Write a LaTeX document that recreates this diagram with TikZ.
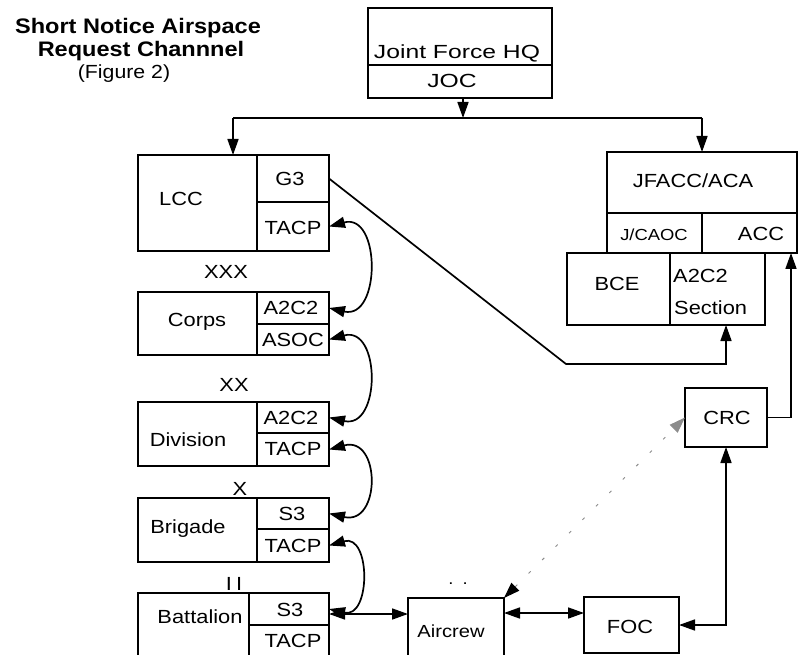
\documentclass[tikz,border=0pt]{standalone}
\usepackage{fontspec}
\setmainfont{Liberation Sans}
\newfontfamily\labf[FakeStretch=1.15]{Liberation Sans}
\newfontfamily\wlabf[FakeStretch=1.3]{Liberation Sans}
\newfontfamily\titf[FakeStretch=1.12]{Liberation Sans}
\usetikzlibrary{arrows.meta}
\tikzset{
  cell/.style={draw=black, line width=1.3pt, inner sep=0pt, outer sep=0pt, rectangle},
  lbl/.style={inner sep=0pt, font=\labf\fontsize{19}{21}\selectfont},
  slbl/.style={inner sep=0pt, font=\labf\fontsize{16}{18}\selectfont},
  conn/.style={line width=1.7pt, draw=black, >={Triangle[length=16pt,width=11pt]}},
  dashconn/.style={line width=0.9pt, draw=black!45, dash pattern=on 3pt off 16pt,
     >={Triangle[length=16pt,width=11pt]}, arrows={[color=black]<->}},
  ttl/.style={inner sep=0pt, font=\titf\bfseries\fontsize{21}{23}\selectfont},
}
\newcommand\cellbox[5]{\node[cell, minimum width={(#4-#2)*1pt}, minimum height={(#5-#3)*1pt}] (#1) at ({(#2+#4)/2},{(#3+#5)/2}) {};}
\begin{document}
\begin{tikzpicture}[x=1pt,y=-1pt]
\clip (0,0) rectangle (801,655);
\fill[white] (0,0) rectangle (801,655);

% title
\node[ttl] (t1) at (138,28) {Short Notice Airspace};
\node[ttl] (t2) at (141,51) {Request Channnel};
\node[inner sep=0pt, font=\titf\fontsize{19}{21}\selectfont] (t3) at (124,74) {(Figure 2)};

% Joint Force HQ
\cellbox{jfhq}{368}{8}{552}{65}
\cellbox{joc}{368}{65}{552}{98}
\node[inner sep=0pt, font=\wlabf\fontsize{19}{21}\selectfont] (jfhqt) at (457,53) {Joint Force HQ};
\node[inner sep=0pt, font=\wlabf\fontsize{19}{21}\selectfont] (joct) at (452,81) {JOC};

% LCC
\cellbox{lccm}{138}{155}{257}{251}
\cellbox{lccg}{257}{155}{329}{202}
\cellbox{lcct}{257}{202}{329}{251}
\node[lbl] (lcctx) at (181,199) {LCC};
\node[lbl] (lccgt) at (290,179) {G3};
\node[lbl] (lcctt) at (293,228) {TACP};

\node[lbl] (xxx) at (226,272) {XXX};

% Corps
\cellbox{corm}{138}{292}{257}{355}
\cellbox{cora}{257}{292}{329}{324}
\cellbox{corb}{257}{324}{329}{355}
\node[lbl] (cortx) at (197,322) {Corps};
\node[lbl] (corat) at (291,308) {A2C2};
\node[lbl] (corbt) at (293,340) {ASOC};

\node[lbl] (xx) at (234,385) {XX};

% Division
\cellbox{divm}{138}{402}{257}{466}
\cellbox{diva}{257}{402}{329}{433}
\cellbox{divb}{257}{433}{329}{466}
\node[lbl] (divtx) at (188,440) {Division};
\node[lbl] (divat) at (291,418) {A2C2};
\node[lbl] (divbt) at (293,449) {TACP};

\node[lbl] (x1) at (240,489) {X};

% Brigade
\cellbox{brim}{138}{498}{257}{562}
\cellbox{bria}{257}{498}{329}{529}
\cellbox{brib}{257}{529}{329}{562}
\node[lbl] (britx) at (188,529) {Brigade};
\node[lbl] (briat) at (292,514) {S3};
\node[lbl] (bribt) at (293,546) {TACP};

\node[lbl] (ii) at (234,584) {I\kern4pt I};

% Battalion
\cellbox{batm}{138}{593}{249}{670}
\cellbox{bata}{249}{593}{329}{625}
\cellbox{batb}{249}{625}{329}{670}
\node[lbl] (battx) at (200,617) {Battalion};
\node[lbl] (batat) at (290,610) {S3};
\node[lbl] (batbt) at (293,641) {TACP};

% JFACC
\cellbox{jfacc}{607}{152}{797}{213}
\cellbox{jcaoc}{607}{213}{702}{253}
\cellbox{acc}{702}{213}{797}{253}
\node[lbl] (jfacct) at (693,181) {JFACC/ACA};
\node[slbl] (jcaoct) at (654,235) {J/CAOC};
\node[lbl] (acct) at (761,234) {ACC};
\cellbox{bce}{567}{253}{670}{325}
\cellbox{a2s}{670}{253}{765}{325}
\node[lbl] (bcet) at (617,284) {BCE};
\node[lbl, anchor=west] (a2st1) at (673,276) {A2C2};
\node[lbl, anchor=west] (a2st2) at (674,308) {Section};

% CRC, Aircrew, FOC
\cellbox{crc}{685}{388}{767}{447}
\node[lbl] (crct) at (727,418) {CRC};
\cellbox{air}{408}{598}{504}{670}
\node[inner sep=0pt, font=\labf\fontsize{17.5}{19}\selectfont] (airt) at (451,631) {Aircrew};
\node[slbl] (dots) at (458,584) {.\kern9pt.};
\cellbox{foc}{584}{597}{679}{653}
\node[lbl] (foct) at (630,627) {FOC};

% connectors
\coordinate (split) at (463,118);
\coordinate (sl) at (233,118);
\coordinate (sr) at (702,118);
\draw[conn,->] (split |- joc.south) -- (split);
\draw[conn] (sl) -- (sr);
\draw[conn,->] (sl) -- (sl |- lccm.north);
\draw[conn,->] (sr) -- (sr |- jfacc.north);

\draw[conn,<->] (lcct.east) .. controls +(52,-14) and +(52,12) .. (cora.east);
\draw[conn,<->] (corb.east) .. controls +(52,-14) and +(52,12) .. (diva.east);
\draw[conn,<->] (divb.east) .. controls +(52,-14) and +(52,12) .. (bria.east);
\draw[conn,<->] (brib.east) .. controls +(42,-12) and +(42,10) .. (bata.east);

\coordinate (bend) at (566,364);
\coordinate (a2in) at (726,325);
\draw[conn,->] (lccg.east) -- (bend) -| (a2in);

\coordinate (lv1) at (0,614);
\coordinate (lv2) at (0,613);
\draw[conn,<->] (bata.east |- lv1) -- (air.west |- lv1);
\draw[conn,<->] (air.east |- lv2) -- (foc.west |- lv2);
\draw[conn,<->] (foc.east) -| (crc.south);
\coordinate (accin) at (791,253);
\draw[conn,->] (crc.east) -| (accin);
\draw[dashconn] (air.north east) -- (crc.west);
\end{tikzpicture}
\end{document}
